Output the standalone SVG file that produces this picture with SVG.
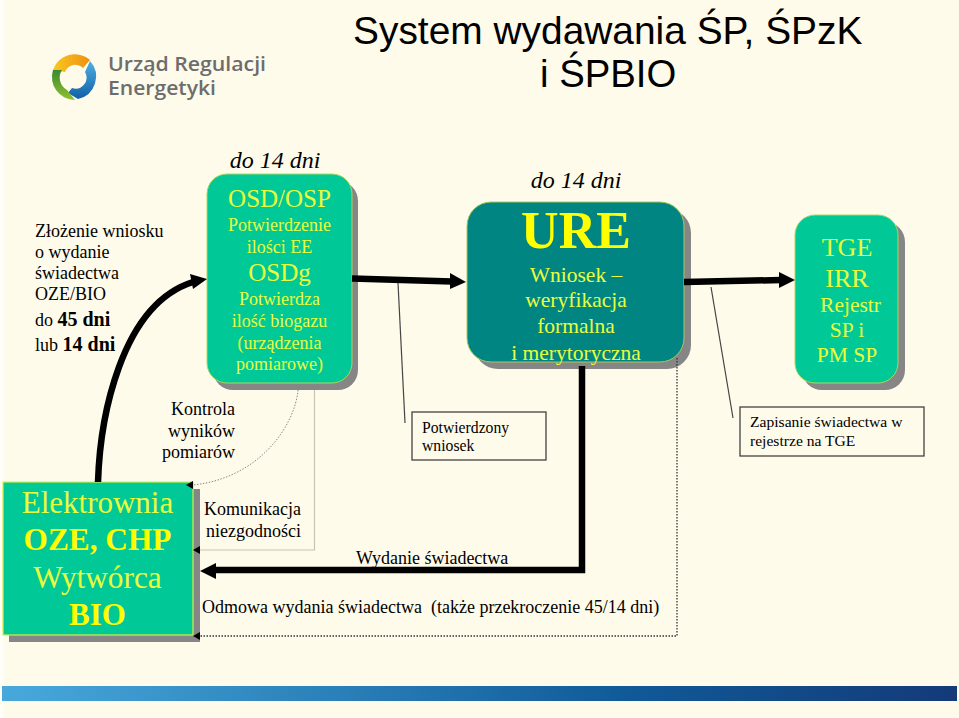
<svg xmlns="http://www.w3.org/2000/svg" width="959" height="718" viewBox="0 0 959 718">
<style>
.t{font-family:"Liberation Serif","Times New Roman",serif}
.s{font-family:"Liberation Sans",Arial,sans-serif}
.b{fill:#000}
.y{fill:#eaff3c}
.Y{fill:#ffff00}
.m{text-anchor:middle}
.sh{fill:#868686}
.g{fill:#00c896;stroke:#a8d860;stroke-width:1}
.u{fill:#008583;stroke:#a8c860;stroke-width:1}
.th{fill:none;stroke:#000;stroke-width:6.5}
.l{fill:none;stroke:#444;stroke-width:1.2}
.bx{fill:none;stroke:#333;stroke-width:1.2}
</style>
<defs>
<linearGradient id="bar" x1="0" x2="1" y1="0" y2="0"><stop offset="0" stop-color="#48a8dc"/><stop offset=".35" stop-color="#2a80b8"/><stop offset=".65" stop-color="#105a98"/><stop offset="1" stop-color="#143a78"/></linearGradient>
<linearGradient id="c1" x1="0" x2="1" y1="0" y2="0"><stop offset="0" stop-color="#f8c820"/><stop offset="1" stop-color="#f09010"/></linearGradient>
<linearGradient id="c2" x1="0" x2="0" y1="0" y2="1"><stop offset="0" stop-color="#50b0e0"/><stop offset="1" stop-color="#1060a8"/></linearGradient>
<linearGradient id="c3" x1="0" x2="0" y1="0" y2="1"><stop offset="0" stop-color="#3a8a30"/><stop offset="1" stop-color="#90c030"/></linearGradient>
</defs>
<rect width="959" height="718" fill="#fffbea"/>
<rect x="0" y="0" width="3" height="718" fill="#fffef8"/>
<rect x="2" y="686" width="955" height="15" fill="url(#bar)"/>
<g id="logo">
<path d="M53 70A23 23 0 0 1 90 60L83 68A11 11 0 0 0 65 72Z" fill="url(#c1)"/>
<path d="M90 61A23 23 0 0 1 78 99L68 93L72 88A11 11 0 0 0 85 72Z" fill="url(#c2)"/>
<path d="M53 70L62 70A14 14 0 0 0 67 90L75 100A23 23 0 0 1 53 70Z" fill="url(#c3)"/>
<text x="108" y="71" font-family="Open Sans,sans-serif" font-size="19" font-weight="600" fill="#6d6d6d" textLength="158" lengthAdjust="spacingAndGlyphs">Urząd Regulacji</text>
<text x="108" y="95" font-family="Open Sans,sans-serif" font-size="19" font-weight="600" fill="#6d6d6d" textLength="108" lengthAdjust="spacingAndGlyphs">Energetyki</text>
</g>
<g id="title" class="s" fill="#000">
<text x="353" y="44" font-size="38.9">System wydawania ŚP, ŚPzK</text>
<text x="540" y="87" font-size="38.3">i ŚPBIO</text>
</g>
<g id="n-submit" class="t b" font-size="18">
<text x="35" y="237">Złożenie wniosku</text>
<text x="35" y="258">o wydanie</text>
<text x="35" y="279">świadectwa</text>
<text x="35" y="300">OZE/BIO</text>
<text x="35" y="326">do <tspan font-weight="bold" font-size="20">45 dni</tspan></text>
<text x="35" y="351">lub <tspan font-weight="bold" font-size="20">14 dni</tspan></text>
</g>
<g id="n-osd">
<text class="t b m" x="275" y="168" font-size="24" font-style="italic">do 14 dni</text>
<rect class="sh" x="213" y="181" width="145" height="209" rx="20"/>
<rect class="g" x="207" y="174" width="145" height="209" rx="20"/>
<g class="t y m">
<text x="279.5" y="207" font-size="25">OSD/OSP</text>
<text x="279.5" y="231" font-size="18">Potwierdzenie</text>
<text x="279.5" y="253" font-size="18">ilości EE</text>
<text x="279.5" y="281" font-size="25">OSDg</text>
<text x="279.5" y="305" font-size="18">Potwierdza</text>
<text x="279.5" y="327" font-size="18">ilość biogazu</text>
<text x="279.5" y="349" font-size="18">(urządzenia</text>
<text x="279.5" y="370" font-size="18">pomiarowe)</text>
</g>
</g>
<g id="n-ure">
<text class="t b m" x="576" y="188" font-size="24" font-style="italic">do 14 dni</text>
<rect class="sh" x="474" y="209" width="217" height="160" rx="24"/>
<rect class="u" x="467" y="202" width="217" height="160" rx="24"/>
<g class="t m">
<text class="Y" x="576" y="248" font-size="52" font-weight="bold">URE</text>
<text class="y" x="576" y="282" font-size="21.5">Wniosek –</text>
<text class="y" x="576" y="307" font-size="21.5">weryfikacja</text>
<text class="y" x="576" y="333" font-size="21.5">formalna</text>
<text class="y" x="576" y="360" font-size="21.5">i merytoryczna</text>
</g>
</g>
<g id="n-tge">
<rect class="sh" x="802" y="222" width="103" height="168" rx="20"/>
<rect class="g" x="795" y="215" width="103" height="168" rx="20"/>
<g class="t y m">
<text x="847" y="256" font-size="26">TGE</text>
<text x="847" y="287" font-size="26">IRR</text>
<text x="850.5" y="312" font-size="21.5">Rejestr</text>
<text x="847" y="337" font-size="21.5">SP i</text>
<text x="847" y="362" font-size="21.5">PM SP</text>
</g>
</g>
<g id="n-power">
<rect class="sh" x="9" y="489" width="191" height="153"/>
<rect x="3" y="482" width="190" height="153" fill="#00c896" stroke="#d8f040" stroke-width="1.2"/>
<g class="t m">
<text class="y" x="97.5" y="513" font-size="31">Elektrownia</text>
<text class="Y" x="97.5" y="550" font-size="31.3" font-weight="bold">OZE, CHP</text>
<text class="y" x="97.5" y="588" font-size="31.3">Wytwórca</text>
<text class="Y" x="97.5" y="625" font-size="31" font-weight="bold">BIO</text>
</g>
</g>
<g id="n-kontrola" class="t b" font-size="18" text-anchor="end">
<text x="235" y="415">Kontrola</text>
<text x="235" y="437">wyników</text>
<text x="235" y="458">pomiarów</text>
</g>
<g id="n-komunikacja" class="t b" font-size="18">
<text x="204" y="515">Komunikacja</text>
<text x="206" y="537">niezgodności</text>
</g>
<g id="n-potw">
<rect class="bx" x="412" y="412" width="134" height="48"/>
<text class="t b" x="422" y="433" font-size="15.7">Potwierdzony</text>
<text class="t b" x="422" y="451" font-size="15.7">wniosek</text>
</g>
<g id="n-zapis">
<rect class="bx" x="740" y="407" width="184" height="49"/>
<text class="t b" x="750" y="427" font-size="15.6">Zapisanie świadectwa w</text>
<text class="t b" x="750" y="446" font-size="15.6">rejestrze na TGE</text>
</g>
<g id="n-wyd"><text class="t b" x="356" y="564" font-size="18">Wydanie świadectwa</text></g>
<g id="n-odm"><text class="t b" x="202" y="613" font-size="18" xml:space="preserve">Odmowa wydania świadectwa  (także przekroczenie 45/14 dni)</text></g>
<g id="connectors">
<path class="th" d="M98 482C100 420 120 305 193 282"/>
<path class="b" d="M207 279L190 274L193 289Z"/>
<path class="th" d="M352 278.5L452 281.5"/>
<path class="b" d="M466 282L450 273L450 289Z"/>
<path class="th" d="M684 282L781 280"/>
<path class="b" d="M795 280L779 272L779 288Z"/>
<path class="th" d="M582 366V570H212"/>
<path class="b" d="M200 571L216 563V579Z"/>
<path class="l" d="M398 283L405 423"/>
<path class="l" d="M711 287L733 418"/>
<path d="M314.500 390V550H197" fill="none" stroke="#c8c4b0" stroke-width="1.2"/>
<path class="b" d="M193 550L200 546V554Z"/>
<path d="M298 390C295 425 260 478 193 485" fill="none" stroke="#888" stroke-width="1" stroke-dasharray="1.5 1.5"/>
<path class="b" d="M186 485L193 481V489Z"/>
<path d="M677 358V636H198" fill="none" stroke="#333" stroke-width="1.3" stroke-dasharray="1.5 1.5"/>
<path class="b" d="M193 636L200 632V640Z"/>
</g>
</svg>
